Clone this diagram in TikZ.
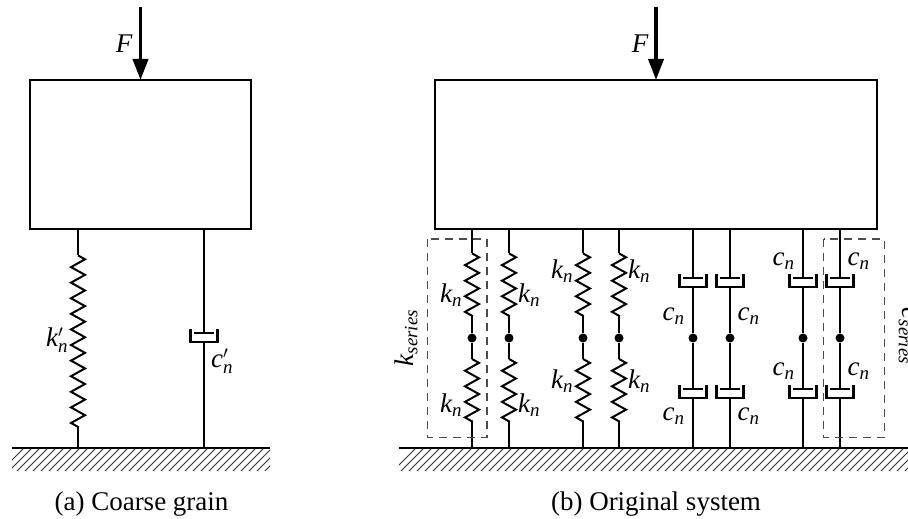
\documentclass[tikz,border=0pt]{standalone}
\usepackage{fontspec}
\setmainfont{Liberation Serif}
\usetikzlibrary{arrows.meta,decorations.pathmorphing}
\tikzset{
  x=1pt,y=-1pt,
  bar/.style={draw=black,line width=2.2pt},
  coilline/.style={line width=2pt,line join=miter},
  massbox/.style={draw=black,line width=2.2pt,fill=white,rectangle,inner sep=0pt,outer sep=0pt,minimum height=149pt},
  zz/.style={decorate,decoration={zigzag,amplitude=7pt,segment length=15.59pt}},
  cupline/.style={draw=black,line width=2.2pt,line join=miter},
  dotn/.style={circle,fill=black,inner sep=0pt,minimum size=9pt},
  lab/.style={inner sep=0pt,font=\fontsize{27}{31}\selectfont},
  captiontext/.style={inner sep=0pt,anchor=base,font=\fontsize{27}{31}\selectfont},
  dashbox/.style={draw=black!70,line width=1.1pt,dash pattern=on 8pt off 6pt},
  force/.style={draw=black,line width=3.8pt,-{Triangle[length=21pt,width=15pt]}},
  groundline/.style={draw=black,line width=1.3pt},
  hatchline/.style={draw=black!80,line width=.8pt},
}
\newcommand{\mk}{\mathit{k}}
\newcommand{\mc}{\mathit{c}}
\newcommand{\mn}{\mathit{n}}
\newcommand{\ms}{\mathit{series}}
\newcommand{\cupat}[3]{% x, y of cup top, name
  \draw[cupline] (#1-13.5,#2) -- (#1-13.5,#2+13) -- (#1+13.5,#2+13) -- (#1+13.5,#2);
  \draw[cupline] (#1-10,#2+4) -- (#1+10,#2+4);
  \coordinate (#3p) at (#1,#2+4);
  \coordinate (#3b) at (#1,#2+13);
}
\begin{document}
\begin{tikzpicture}
\useasboundingbox (0,0) rectangle (908,519);
% masses
\node[massbox,minimum width=221pt] (mL) at (140.5,154.5) {};
\node[massbox,minimum width=442pt] (mR) at (656,154.5) {};
% ground
\coordinate (gLa) at (12,448); \coordinate (gLb) at (270,448);
\coordinate (gRa) at (399,448); \coordinate (gRb) at (908,448);
\begin{scope}
  \clip (12,448) rectangle (270,470);
  \foreach \h in {0,8,...,280} \draw[hatchline] (\h,472) -- (\h+26,446);
\end{scope}
\begin{scope}
  \clip (399,448) rectangle (908,470);
  \foreach \h in {392,400,...,912} \draw[hatchline] (\h,472) -- (\h+26,446);
\end{scope}
\draw[groundline] (gLa) -- (gLb);
\draw[groundline] (gRa) -- (gRb);
% forces
\coordinate (fL) at (140.5,7); \coordinate (fR) at (656,7);
\draw[force] (fL) -- (fL |- mL.north);
\draw[force] (fR) -- (fR |- mR.north);
\node[lab] (F1) at (124,44) {$\mathit{F}$};
\node[lab] (F2) at (640,44) {$\mathit{F}$};
% coarse spring
\coordinate (csa) at (78,255.4); \coordinate (csb) at (78,427);
\draw[bar] (mL.south -| csa) -- (csa);
\draw[bar,zz,coilline] (csa) -- (csb);
\draw[bar] (csb) -- (gLa -| csb);
\node[lab] (kp) at (57,340) {$\mk_\mn'$};
% coarse damper
\cupat{204}{329}{cd}
\draw[bar] (mL.south -| cdp) -- (cdp);
\draw[bar] (cdb) -- (gLa -| cdb);
\node[lab] (cp) at (222,361) {$\mc_\mn'$};
% series springs
\foreach \n/\x in {1/472,2/509,3/583,4/619}{
  \coordinate (a\n) at (\x,253.4); \coordinate (b\n) at (\x,315.8);
  \coordinate (c\n) at (\x,359); \coordinate (d\n) at (\x,421.4);
  \node[dotn] (s\n) at (\x,338) {};
  \draw[bar] (mR.south -| a\n) -- (a\n);
  \draw[bar,zz,coilline] (a\n) -- (b\n);
  \draw[bar] (b\n) -- (s\n) -- (c\n);
  \draw[bar,zz,coilline] (c\n) -- (d\n);
  \draw[bar] (d\n) -- (gRa -| d\n);
}
% series dampers
\foreach \n/\x in {5/693,6/730,7/803,8/840}{
  \cupat{\x}{274}{u\n}
  \cupat{\x}{385}{l\n}
  \node[dotn] (s\n) at (\x,338) {};
  \draw[bar] (mR.south -| u\n p) -- (u\n p);
  \draw[bar] (u\n b) -- (s\n) -- (l\n p);
  \draw[bar] (l\n b) -- (gRa -| l\n b);
}
% labels k
\foreach \i/\x/\y in {a/451/295,b/451/405,c/529/295,d/529/405,e/562/271,f/562/381,g/639/271,h/639/381}
  \node[lab] (k\i) at (\x,\y) {$\mk_\mn$};
\foreach \i/\x/\y in {a/673.5/316,b/673.5/416,c/748.5/316,d/748.5/416,e/783.5/261,f/783.5/371,g/858.5/261,h/858.5/371}
  \node[lab] (cl\i) at (\x,\y) {$\mc_\mn$};
% dashed groups
\draw[dashbox] (427.7,239) rectangle (487,437.5);
\draw[dashbox] (823.7,239) rectangle (884.3,437.5);
\node[lab,rotate=90] (ks) at (406,338) {$\mk_{\ms}$};
\node[lab,rotate=-90] (cs) at (907,336) {$\mc_{\ms}$};
% captions
\node[captiontext] (capa) at (141.5,510) {(a) Coarse grain};
\node[captiontext] (capb) at (656,510) {(b) Original system};
\end{tikzpicture}
\end{document}
